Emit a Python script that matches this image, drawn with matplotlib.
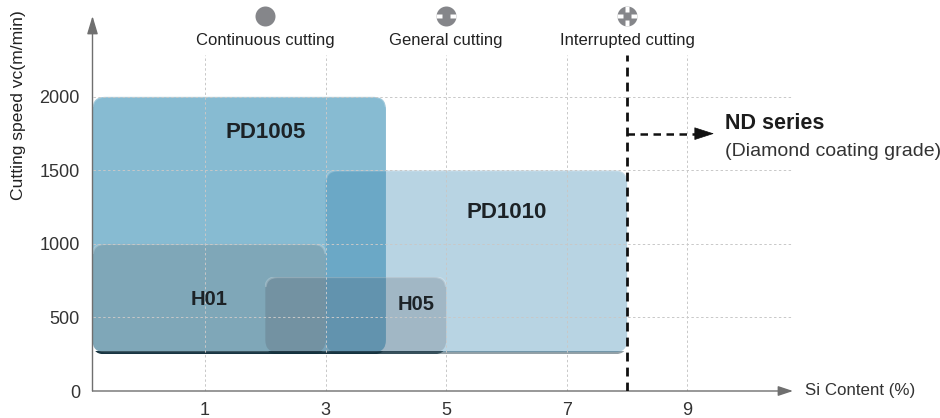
import matplotlib
matplotlib.use("Agg")
from matplotlib import pyplot as plt
from matplotlib.patches import FancyBboxPatch, Rectangle
from matplotlib.path import Path

plt.rcParams["font.family"] = ["Liberation Sans", "DejaVu Sans"]

# values
x_start = -0.866
x_end = 10.75
y_top = 2550
si_ticks = [1, 3, 5, 7, 9]
speed_ticks = [0, 500, 1000, 1500, 2000]

# draw order is back to front
grades = ["PD1005", "PD1010", "H01", "H05"]
si_low = [x_start, 3, x_start, 2]
si_high = [4, 8, 3, 5]
speed_low = [250, 250, 250, 250]
speed_high = [2000, 1500, 1000, 775]
grade_colors = ["#87bbd2", "#3a88b2", "#5f5750", "#3d3842"]
grade_alpha = [1.0, 0.36, 0.2, 0.18]
foot_alpha = [0.9, 0.45, 0.7, 0.7]
label_si = [2.0, 6.0, 1.07, 4.5]
label_speed = [1760, 1215, 620, 585]
label_size = [16, 16, 14.5, 14.5]

cutting_labels = ["Continuous cutting", "General cutting", "Interrupted cutting"]
cutting_si = [2, 5, 8]

nd_limit = 8
nd_arrow_speed = 1750
nd_arrow_end = 9.44

# px per data unit, used to keep corners round
px_x = 60.3
px_y = 0.147


def notch_marker(sides):
    """White slots cut in to the cutting icons, centred on the marker."""
    verts = []
    codes = []
    w = 0.22
    for side in sides:
        if side == "h":
            rects = [(-1.0, -w, -0.36, w), (0.36, -w, 1.0, w)]
        else:
            rects = [(-w, -1.0, w, -0.36), (-w, 0.36, w, 1.0)]
        for x0, y0, x1, y1 in rects:
            verts += [(x0, y0), (x1, y0), (x1, y1), (x0, y1), (x0, y0)]
            codes += [Path.MOVETO, Path.LINETO, Path.LINETO, Path.LINETO, Path.CLOSEPOLY]
    return Path(verts, codes)


def glossy_box(ax, x0, x1, y0, y1, color, alpha, foot_a):
    """Rounded box with a dark foot and a pale rim on top."""
    aspect = px_x / px_y
    style = "round,pad=0,rounding_size=0.2"
    foot = FancyBboxPatch(
        (x0, y0), x1 - x0, y1 - y0, boxstyle=style, mutation_aspect=aspect,
        fc="#12303c", ec="none", alpha=foot_a, zorder=2,
    )
    ax.add_patch(foot)
    foot.set_clip_path(Rectangle((x0, y0), x1 - x0, 20, transform=ax.transData))
    body = FancyBboxPatch(
        (x0, y0 + 14), x1 - x0, y1 - y0 - 14, boxstyle=style, mutation_aspect=aspect,
        fc=color, ec="none", alpha=alpha, zorder=2,
    )
    ax.add_patch(body)
    rim = FancyBboxPatch(
        (x0, y0 + 14), x1 - x0, y1 - y0 - 14, boxstyle=style, mutation_aspect=aspect,
        fc="none", ec="white", lw=1.6, alpha=0.22, zorder=2,
    )
    ax.add_patch(rim)
    rim.set_clip_path(Rectangle((x0, y1 - 70), x1 - x0, 70, transform=ax.transData))


fig = plt.figure(figsize=(9.4, 4.18), dpi=100)
ax = fig.add_axes([92.5 / 940, (418 - 391) / 418, (793 - 92.5) / 940, (391 - 16) / 418])
ax.set_xlim(x_start, x_end)
ax.set_ylim(0, y_top)
for spine in ax.spines.values():
    spine.set_visible(False)

ax.set_xticks(si_ticks)
ax.set_yticks(speed_ticks)
ax.tick_params(length=0, labelsize=13, labelcolor="#333333")
ax.tick_params(axis="x", pad=8)
ax.tick_params(axis="y", pad=9)

for i in range(len(grades)):
    glossy_box(ax, si_low[i], si_high[i], speed_low[i], speed_high[i],
               grade_colors[i], grade_alpha[i], foot_alpha[i])
    ax.text(label_si[i], label_speed[i], grades[i], fontsize=label_size[i],
            fontweight="bold", color="#1c2226", ha="center", va="center", zorder=5)

# grid stops short of the icons on top
ax.vlines(si_ticks, 0, 2285, colors="#c8c8c8", lw=0.7, linestyles=(0, (2.5, 2.5)), zorder=3)
ax.hlines(speed_ticks[1:], x_start, x_end, colors="#c8c8c8", lw=0.7,
          linestyles=(0, (2.5, 2.5)), zorder=3)

# axis arrows
ax.annotate("", xy=(x_end, 0), xytext=(x_start, 0), zorder=4, annotation_clip=False,
            arrowprops=dict(arrowstyle="-|>,head_length=0.9,head_width=0.3", mutation_scale=10,
                            color="#6f6f6f", lw=1.0, shrinkA=0, shrinkB=0))
ax.annotate("", xy=(x_start, y_top), xytext=(x_start, 0), zorder=4, annotation_clip=False,
            arrowprops=dict(arrowstyle="-|>,head_length=1.1,head_width=0.33", mutation_scale=10,
                            color="#6f6f6f", lw=1.0, shrinkA=0, shrinkB=0))
ax.text(x_end + 0.2, 0, "Si Content (%)", fontsize=12.2, color="#333333",
        va="center", ha="left", clip_on=False)
ax.text(x_start - 1.22, 1945, "Cutting speed vc(m/min)", fontsize=12.6, color="#222222",
        rotation=90, ha="center", va="center", clip_on=False)

# cutting type icons
notches = [[], ["h"], ["h", "v"]]
for si, label, sides in zip(cutting_si, cutting_labels, notches):
    ax.plot([si], [2550], marker="o", ms=14.4, mfc="#85868a", mec="none",
            clip_on=False, zorder=5)
    if sides:
        ax.plot([si], [2550], marker=notch_marker(sides), ms=14.8, mfc="white", mec="none",
                clip_on=False, zorder=6)
    ax.text(si, 2380, label, fontsize=12, color="#222222", ha="center", va="center",
            clip_on=False, zorder=5)

# ND series limit
ax.plot([nd_limit, nd_limit], [0, 2285], color="#111111", lw=2, ls=(0, (3.2, 2.2)), zorder=6)
ax.plot([nd_limit, nd_arrow_end - 0.2], [nd_arrow_speed, nd_arrow_speed], color="#111111",
        lw=1.8, ls=(0, (3, 2.2)), zorder=6)
ax.annotate("", xy=(nd_arrow_end, nd_arrow_speed), xytext=(nd_arrow_end - 0.3, nd_arrow_speed),
            zorder=6,
            arrowprops=dict(arrowstyle="-|>,head_length=1.3,head_width=0.42", mutation_scale=10,
                            color="#111111", lw=0.5, shrinkA=0, shrinkB=0))
ax.text(9.62, 1820, "ND series", fontsize=15.5, fontweight="bold", color="#1c1c1c",
        va="center", ha="left", clip_on=False)
ax.text(9.62, 1630, "(Diamond coating grade)", fontsize=14, color="#333333",
        va="center", ha="left", clip_on=False)

fig.savefig("out.png", dpi=100)
